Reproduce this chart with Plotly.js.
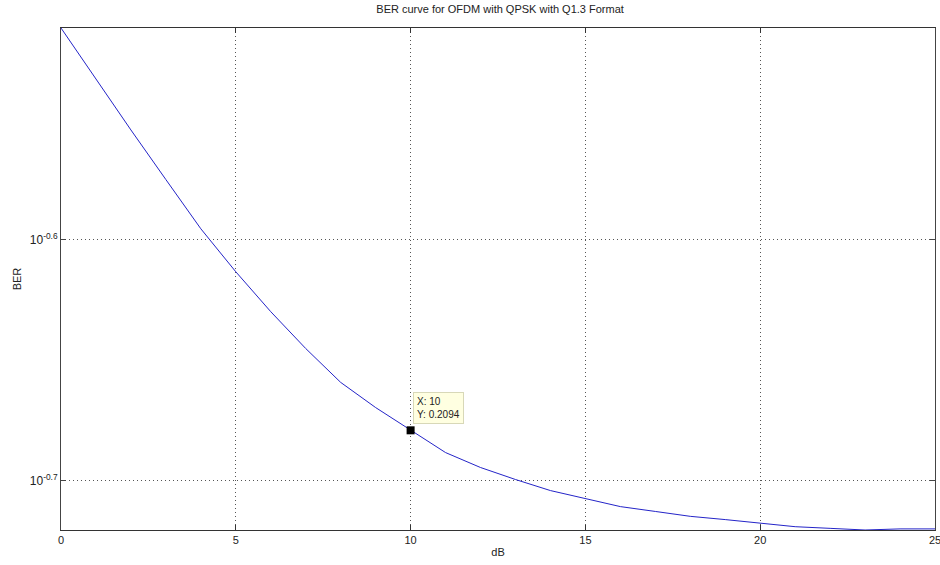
<!DOCTYPE html>
<html>
<head>
<meta charset="utf-8">
<script src="https://cdn.plot.ly/plotly-3.0.1.min.js"></script>
<style>html,body{margin:0;padding:0;background:#fff;}#chart{width:940px;height:565px;}</style>
</head>
<body>
<div id="chart"></div>
<script>
const snrDb = [0,1,2,3,4,5,6,7,8,9,10,11,12,13,14,15,16,17,18,19,20,21,22,23,24,25];
const ber = [0.3074,0.2928,0.2789,0.2660,0.2538,0.2436,0.2345,0.2264,0.2192,0.2140,0.2094,0.2050,0.2021,0.1998,0.1977,0.1962,0.1947,0.1938,0.1929,0.1923,0.1916,0.1910,0.1907,0.1904,0.1906,0.1906];
const xTicks = [0,5,10,15,20,25];
const yTickExp = [-0.7,-0.6];
const tipIndex = 10;

const yTickVals = yTickExp.map(e => Math.pow(10, e));
const yTickText = yTickExp.map(e => '10<sup>' + e.toFixed(1) + '</sup>');
const yMin = Math.min(...ber), yMax = Math.max(...ber);

const font = {family: 'Liberation Sans, Arial, sans-serif', size: 11, color: '#222'};

const traces = [
  {x: snrDb, y: ber, type: 'scatter', mode: 'lines',
   line: {color: '#2424c8', width: 1}, hoverinfo: 'skip'},
  {x: [snrDb[tipIndex]], y: [ber[tipIndex]], type: 'scatter', mode: 'markers',
   marker: {symbol: 'square', size: 8, color: '#000'}, hoverinfo: 'skip'}
];

const layout = {
  width: 940, height: 565,
  margin: {l: 61, r: 5, t: 28, b: 35},
  paper_bgcolor: '#fff', plot_bgcolor: '#fff',
  showlegend: false,
  font: font,
  title: {text: 'BER curve for OFDM with QPSK with Q1.3 Format', x: 0.532, xanchor: 'center',
          y: 1, yanchor: 'top', pad: {t: 5}, font: {family: font.family, size: 11, color: '#222'}},
  xaxis: {
    range: [0, 25], tickvals: xTicks, ticktext: xTicks.map(String),
    ticklabeloverflow: 'allow',
    showline: true, linecolor: '#333', linewidth: 1, mirror: 'ticks',
    ticks: 'inside', ticklen: 5, tickcolor: '#333',
    showgrid: true, gridcolor: '#555', griddash: '1px,3px', gridwidth: 1,
    zeroline: false, tickfont: font,
    title: {text: 'dB', font: font, standoff: 3}
  },
  yaxis: {
    type: 'log', range: [Math.log10(yMin), Math.log10(yMax)],
    tickvals: yTickVals, ticktext: yTickText,
    showline: true, linecolor: '#444', linewidth: 1, mirror: 'ticks',
    ticks: 'inside', ticklen: 5, tickcolor: '#444',
    showgrid: true, gridcolor: '#555', griddash: '1px,3px', gridwidth: 1,
    zeroline: false, tickfont: {family: font.family, size: 12, color: '#222'},
    title: {text: 'BER', font: font, standoff: 5}
  },
  annotations: [{
    x: snrDb[tipIndex], y: Math.log10(ber[tipIndex]), xref: 'x', yref: 'y',
    text: 'X: 10<br>Y: ' + ber[tipIndex].toFixed(4),
    showarrow: false, xanchor: 'left', yanchor: 'bottom', align: 'left',
    xshift: 2, yshift: 6,
    bgcolor: '#ffffe1', bordercolor: '#d8d8b8', borderwidth: 1, borderpad: 3,
    font: {family: font.family, size: 10, color: '#222'}
  }]
};

Plotly.newPlot('chart', traces, layout, {staticPlot: true, displayModeBar: false});
</script>
</body>
</html>
